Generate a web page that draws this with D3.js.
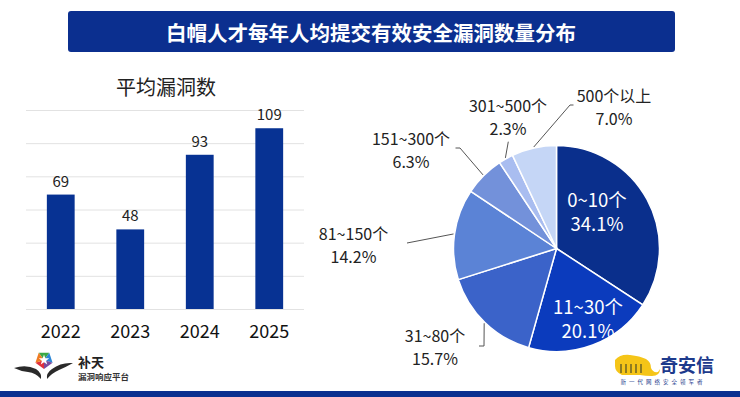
<!DOCTYPE html>
<html>
<head>
<meta charset="utf-8">
<script src="https://cdn.jsdelivr.net/npm/d3@7"></script>
<style>
  body { margin: 0; background: #fff; }
  svg { display: block; font-family: "Noto Sans CJK SC", "Noto Sans", sans-serif; }
</style>
</head>
<body>
<div id="chart"></div>
<script>
// Data
const titleText = "白帽人才每年人均提交有效安全漏洞数量分布";
const barTitle = "平均漏洞数";
const years = ["2022", "2023", "2024", "2025"];
const avgVulns = [69, 48, 93, 109];
const yTicks = [0, 20, 40, 60, 80, 100, 120];

const pieCategories = ["0~10个", "11~30个", "31~80个", "81~150个", "151~300个", "301~500个", "500个以上"];
const pieValues = [34.1, 20.1, 15.7, 14.2, 6.3, 2.3, 7.0];
const pieColors = ["#0a2f8c", "#0b3bbd", "#3b63c9", "#5b83d6", "#7391da", "#a9bdf0", "#c5d6f6"];

const width = 740;
const height = 397;
const navy = "#0b2f8f";

const svg = d3.select("#chart")
    .append("svg")
    .attr("width", width)
    .attr("height", height);

// Title bar
svg.append("rect")
    .attr("x", 68).attr("y", 11)
    .attr("width", 607).attr("height", 41)
    .attr("rx", 3)
    .attr("fill", navy);
svg.append("text")
    .attr("x", 371).attr("y", 32)
    .attr("text-anchor", "middle")
    .attr("dominant-baseline", "central")
    .attr("fill", "#fff")
    .attr("font-size", "20.5px")
    .attr("font-weight", "bold")
    .text(titleText);

// Bottom strip
svg.append("rect")
    .attr("x", 0).attr("y", 391)
    .attr("width", width).attr("height", 6)
    .attr("fill", navy);

// ---------- Bar chart ----------
const x = d3.scaleBand()
    .domain(years)
    .range([26, 304])
    .paddingInner(0.6)
    .paddingOuter(0.3);

const y = d3.scaleLinear()
    .domain([0, 120])
    .range([309, 110]);

svg.append("text")
    .attr("x", 166).attr("y", 86)
    .attr("text-anchor", "middle")
    .attr("dominant-baseline", "central")
    .attr("font-size", "20px")
    .attr("fill", "#222")
    .text(barTitle);

// gridlines
const grid = svg.append("g")
    .attr("transform", "translate(26,0)")
    .call(d3.axisLeft(y).tickValues(yTicks).tickSize(-278).tickFormat(""));
grid.select(".domain").remove();
grid.selectAll("line").attr("stroke", "#e2e2e2");

svg.selectAll("rect.bar")
    .data(avgVulns)
    .enter()
    .append("rect")
    .attr("class", "bar")
    .attr("x", (d, i) => x(years[i]))
    .attr("y", d => y(d))
    .attr("width", x.bandwidth())
    .attr("height", d => y(0) - y(d))
    .attr("fill", "#073293");

svg.selectAll("text.val")
    .data(avgVulns)
    .enter()
    .append("text")
    .attr("class", "val")
    .attr("x", (d, i) => x(years[i]) + x.bandwidth() / 2)
    .attr("y", d => y(d) - 8)
    .attr("text-anchor", "middle")
    .attr("font-size", "15px")
    .attr("fill", "#222")
    .text(d => d);

const xAxis = svg.append("g")
    .attr("transform", "translate(0,309)")
    .call(d3.axisBottom(x).tickSize(0).tickPadding(16));
xAxis.select(".domain").remove();
xAxis.selectAll("text")
    .attr("font-size", "18px")
    .attr("font-family", "'Noto Sans CJK SC', sans-serif")
    .attr("fill", "#111");

// ---------- Pie chart ----------
const cx = 556.5, cy = 248.5, r = 103;

// label centres and leader elbows, relative to the pie centre
const labelPos = [[40.5, -38], [31.5, 69.5], [-121.5, 97.5], [-203, -4.5], [-145.5, -99.5], [-48.5, -132.5], [57.5, -142.5]];
const leaderPts = [null, null,
    [[-72.5, 97.5], [-77.5, 97.5]],
    [[-149.5, -5.5]],
    [[-96.5, -100.5], [-101, -100.5]],
    [[-48.2, -106.8]],
    [[13.5, -143.5], [17, -143.5]]];

const pie = d3.pie().sort(null).value(d => d);
const arcs = pie(pieValues);
const arc = d3.arc().innerRadius(0).outerRadius(r);
const edgeArc = d3.arc().innerRadius(r + 1).outerRadius(r + 1);

const pieG = svg.append("g").attr("transform", `translate(${cx},${cy})`);

pieG.selectAll("path.slice")
    .data(arcs)
    .enter()
    .append("path")
    .attr("class", "slice")
    .attr("d", arc)
    .attr("fill", (d, i) => pieColors[i])
    .attr("stroke", "#fff")
    .attr("stroke-width", 1.5);

// leader lines
pieG.selectAll("polyline")
    .data(arcs.filter((d, i) => leaderPts[i]))
    .enter()
    .append("polyline")
    .attr("points", d => [edgeArc.centroid(d)].concat(leaderPts[d.index]).map(p => p.join(",")).join(" "))
    .attr("fill", "none")
    .attr("stroke", "#555")
    .attr("stroke-width", 1);

const labels = pieG.selectAll("text.plabel")
    .data(arcs)
    .enter()
    .append("text")
    .attr("class", "plabel")
    .attr("text-anchor", "middle")
    .attr("font-size", (d, i) => i < 2 ? "18.5px" : "16px")
    .attr("fill", (d, i) => i < 2 ? "#fff" : "#222");

labels.append("tspan")
    .attr("x", d => labelPos[d.index][0])
    .attr("y", d => labelPos[d.index][1] - (d.index < 2 ? 12 : 11.5))
    .attr("dominant-baseline", "central")
    .text(d => pieCategories[d.index]);
labels.append("tspan")
    .attr("x", d => labelPos[d.index][0])
    .attr("y", d => labelPos[d.index][1] + (d.index < 2 ? 12 : 11.5))
    .attr("dominant-baseline", "central")
    .text(d => pieValues[d.index].toFixed(1) + "%");

// ---------- Logos ----------
// 补天 star logo
const logo = svg.append("g").attr("transform", "translate(44,360)");
logo.append("path")
    .attr("d", "M-30,8 Q-18,4 -8,9 Q-2,13 -3,19 Q-8,13 -16,12 Q-24,11 -30,8 Z")
    .attr("fill", "#2a2a2a");
logo.append("path")
    .attr("d", "M29,3 Q17,2 8,9 Q2,13 3,19 Q8,13 15,10 Q22,7 29,3 Z")
    .attr("fill", "#2a2a2a");
const starColors = ["#3aa845", "#2a86d6", "#7a4b9e", "#e0303c", "#f07b22"];
starColors.forEach((c, i) => {
    const a0 = (i * 72 - 36) * Math.PI / 180, a1 = (i * 72 + 36) * Math.PI / 180;
    logo.append("path")
        .attr("d", `M0,0 L${9 * Math.sin(a0)},${-9 * Math.cos(a0)} L${9 * Math.sin(a1)},${-9 * Math.cos(a1)} Z`)
        .attr("fill", c);
});
const starPts = d3.range(10).map(k => {
    const a = k * 36 * Math.PI / 180, rr = k % 2 ? 2.2 : 5.5;
    return [rr * Math.sin(a), -rr * Math.cos(a)].join(",");
}).join(" ");
logo.append("polygon").attr("points", starPts).attr("fill", "#fff");

svg.append("text")
    .attr("x", 78).attr("y", 367)
    .attr("font-size", "13px")
    .attr("font-weight", "bold")
    .attr("fill", "#222")
    .text("补天");
svg.append("text")
    .attr("x", 78).attr("y", 380)
    .attr("font-size", "8.5px")
    .attr("font-weight", "bold")
    .attr("fill", "#333")
    .text("漏洞响应平台");

// 奇安信 logo
svg.append("path")
    .attr("d", "M615,360 Q620,354 630,355 Q640,356 646,359 Q651,362 651,368 Q653,373 658,372 L660,369 Q660,376 652,376 Q645,376 640,375 L622,375 Q615,372 615,366 Z")
    .attr("fill", "#f5c518");
const stripes = svg.append("g").attr("stroke", "#4a4a2a").attr("stroke-width", 1.2).attr("fill", "none");
[621, 626, 631, 636, 641].forEach(sx => {
    stripes.append("path").attr("d", `M${sx},364 L${sx},373`);
});
svg.append("text")
    .attr("x", 660).attr("y", 372)
    .attr("font-size", "18px")
    .attr("font-weight", "bold")
    .attr("fill", "#1d3a8c")
    .text("奇安信");
svg.append("text")
    .attr("x", 663).attr("y", 384)
    .attr("text-anchor", "middle")
    .attr("font-size", "5.5px")
    .attr("letter-spacing", "3px")
    .attr("fill", "#1d3a8c")
    .text("新一代网络安全领军者");
</script>
</body>
</html>
